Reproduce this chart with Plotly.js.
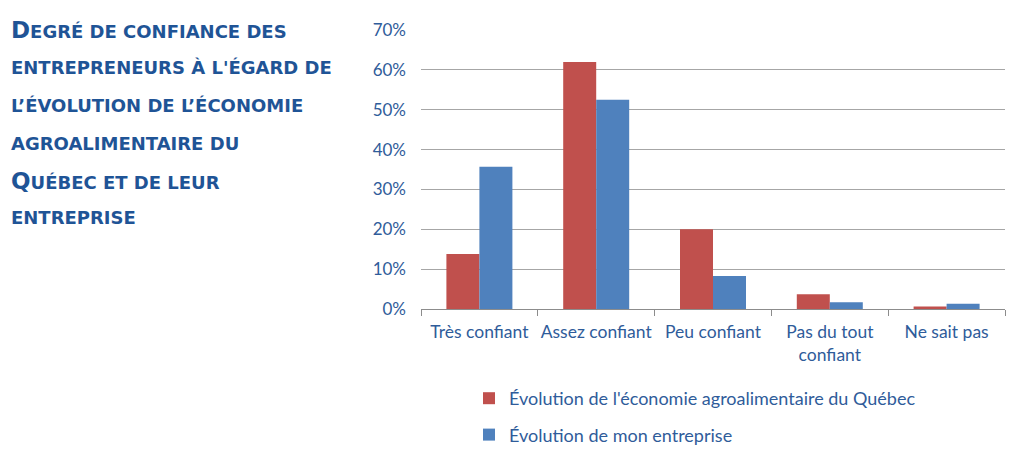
<!DOCTYPE html>
<html><head><meta charset="utf-8">
<script src="https://cdn.plot.ly/plotly-3.0.1.min.js"></script>
<style>body{margin:0;background:#fff}#c{width:1024px;height:456px}</style>
</head><body><div id="c"></div>
<script>
var categories = ["Très confiant", "Assez confiant", "Peu confiant", "Pas du tout<br>confiant", "Ne sait pas"];
var economieQuebec = [0.138, 0.62, 0.20, 0.037, 0.006];
var monEntreprise = [0.357, 0.525, 0.083, 0.017, 0.013];
var seriesNames = ["Évolution de l'économie agroalimentaire du Québec", "Évolution de mon entreprise"];
var titleLines = [
  ["D", "EGRÉ DE CONFIANCE DES"],
  ["", "ENTREPRENEURS À L'ÉGARD DE"],
  ["", "L’ÉVOLUTION DE L’ÉCONOMIE"],
  ["", "AGROALIMENTAIRE DU"],
  ["Q", "UÉBEC ET DE LEUR"],
  ["", "ENTREPRISE"]
];

var W = 1024, H = 456;
var mL = 421, mR = 19, mT = 30, mB = 147;
var pw = W - mL - mR, ph = H - mT - mB;
var txtColor = "#2f5c9a";
var titleColor = "#1f5496";

var traces = [
  {type: "bar", x: categories, y: economieQuebec, name: seriesNames[0], legendgroup: "a",
   marker: {color: "#C0504D"}, hoverinfo: "y"},
  {type: "bar", x: categories, y: monEntreprise, name: seriesNames[1], legendgroup: "b",
   marker: {color: "#4F81BD"}, hoverinfo: "y"}
];

var lineY = [30, 67, 105, 143, 181, 217];
var annotations = titleLines.map(function(l, i) {
  var t = (l[0] ? '<span style="font-size:23px">' + l[0] + '</span>' : '') + l[1];
  return {
    xref: "paper", yref: "paper",
    x: (9 - mL) / pw, y: 1 - (lineY[i] - mT) / ph,
    xanchor: "left", yanchor: "middle", showarrow: false,
    text: t, align: "left",
    font: {family: "'DejaVu Sans', sans-serif", size: 18, color: titleColor, weight: 700}
  };
});

var layout = {
  width: W, height: H,
  margin: {l: mL, r: mR, t: mT, b: mB, pad: 0},
  paper_bgcolor: "#fff", plot_bgcolor: "#fff",
  barmode: "group", bargap: 0.435, bargroupgap: 0,
  font: {family: "Lato, 'Open Sans', sans-serif", size: 16, color: txtColor},
  xaxis: {
    type: "category", tickson: "boundaries", ticks: "outside", ticklen: 6, tickcolor: "#8c8c8c",
    showline: true, linecolor: "#8c8c8c", linewidth: 1, showgrid: false,
    ticklabelstandoff: 7, tickangle: 0,
    tickfont: {size: 17.5, color: txtColor}, fixedrange: true
  },
  yaxis: {
    range: [0, 0.7], dtick: 0.1, tickformat: ".0%",
    showgrid: true, gridcolor: "#a6a6a6", gridwidth: 1,
    zeroline: false, showline: false, ticks: "",
    ticklabelstandoff: 14,
    tickfont: {size: 17, color: txtColor}, fixedrange: true
  },
  showlegend: true,
  legend: {
    orientation: "v", xref: "paper", yref: "container",
    x: (469 - mL) / pw, xanchor: "left",
    y: 1 - 380 / H, yanchor: "top",
    traceorder: "grouped", tracegroupgap: 10,
    font: {size: 18, color: txtColor},
    itemwidth: 30
  },
  annotations: annotations
};

Plotly.newPlot("c", traces, layout, {displayModeBar: false, staticPlot: true});
</script>
</body></html>
